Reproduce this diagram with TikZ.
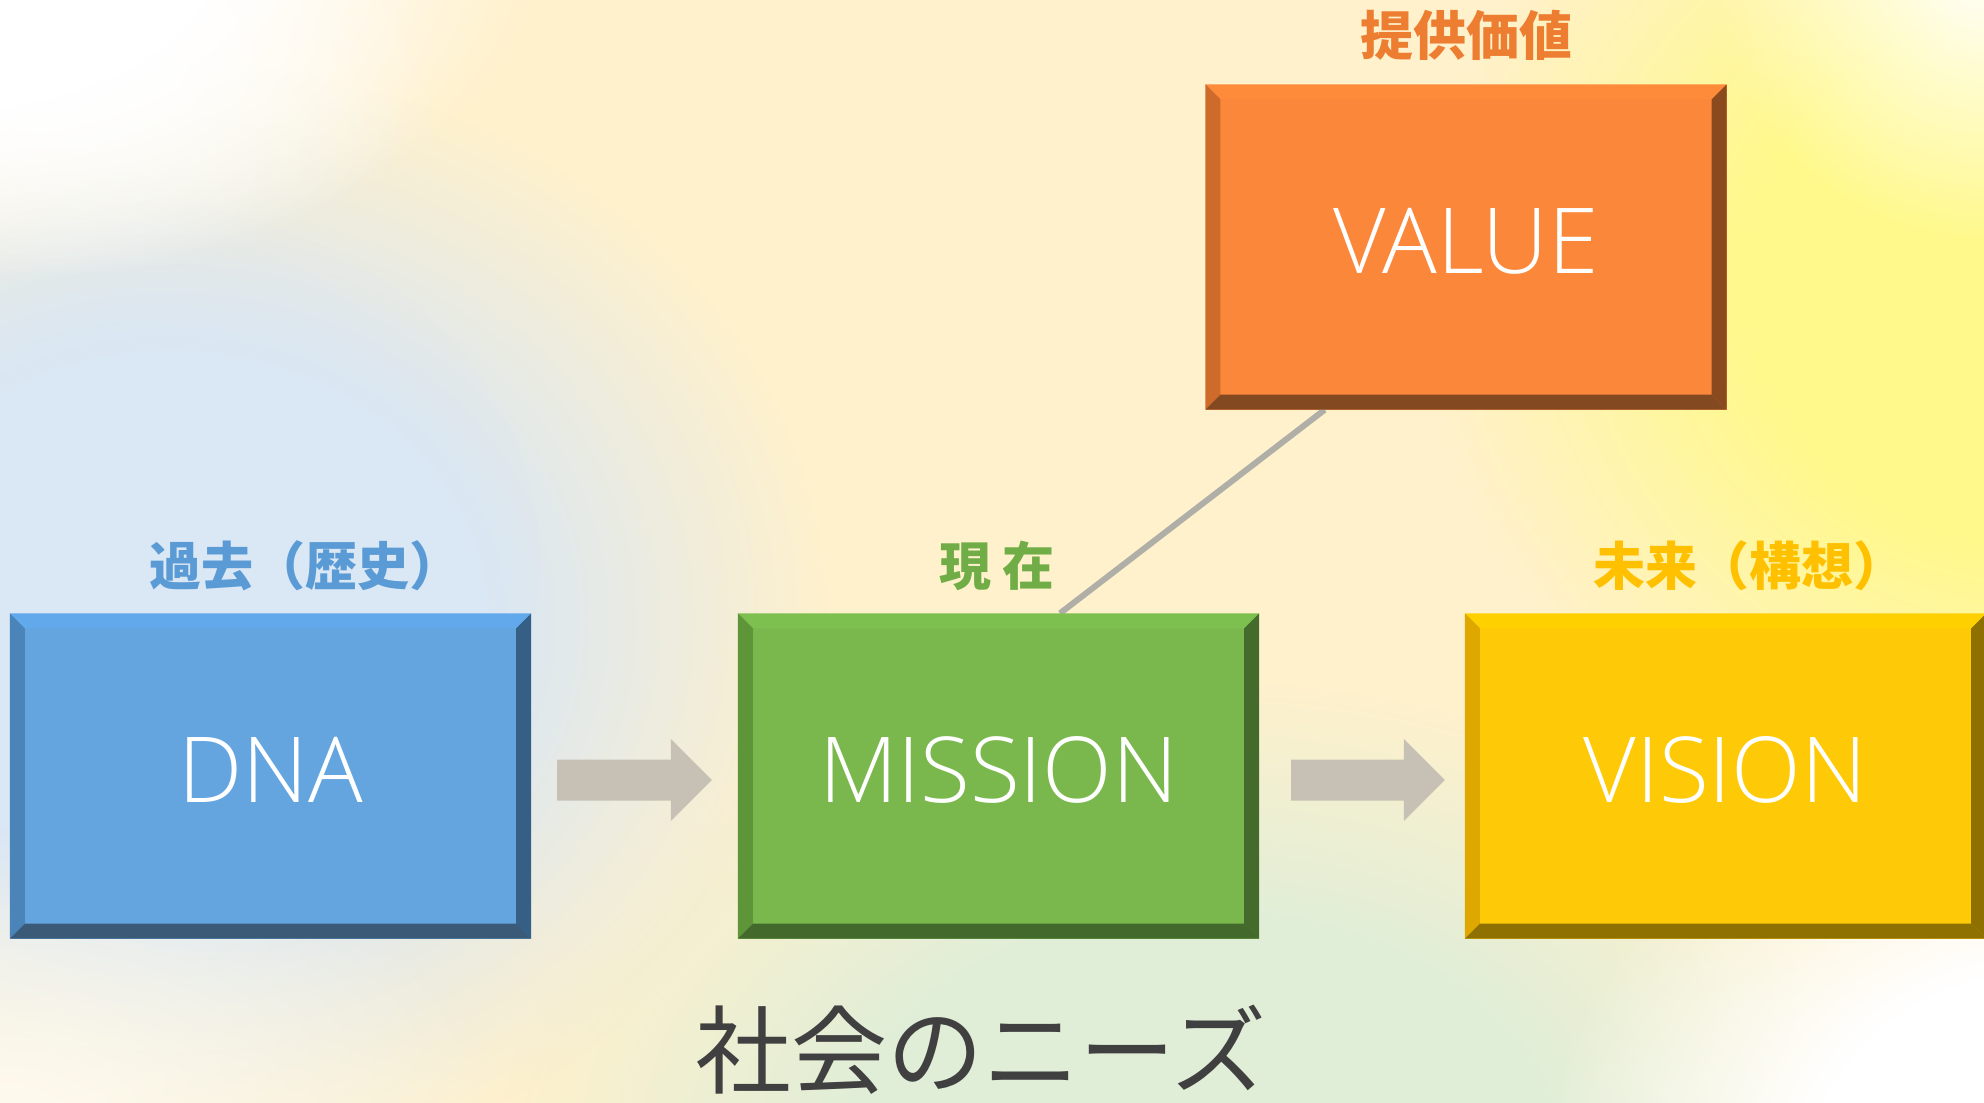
\documentclass[tikz,border=0pt]{standalone}
\usepackage{fontspec}
\usetikzlibrary{calc,fadings}
\newfontfamily\jpfont{Noto Sans CJK JP}
\newfontfamily\boxfont{Open Sans}[UprightFont=* Light]
\definecolor{bgcream}{HTML}{FFF1CC}
\definecolor{bgblue}{HTML}{DAE7F4}
\definecolor{bgyellow}{HTML}{FFF98C}
\definecolor{bggreen}{HTML}{E0EED8}
\definecolor{arrowcol}{HTML}{C6C1B4}
\definecolor{linecol}{HTML}{B0AFA7}
\definecolor{dnaface}{HTML}{64A5E0}\definecolor{dnatop}{HTML}{62A9EC}\definecolor{dnaleft}{HTML}{4A84B8}\definecolor{dnaright}{HTML}{365F86}\definecolor{dnabot}{HTML}{3A5A78}
\definecolor{misface}{HTML}{7AB84E}\definecolor{mistop}{HTML}{7DC04F}\definecolor{misleft}{HTML}{5E9539}\definecolor{misright}{HTML}{456B2C}\definecolor{misbot}{HTML}{44692D}
\definecolor{visface}{HTML}{FECA08}\definecolor{vistop}{HTML}{FFD000}\definecolor{visleft}{HTML}{DFA800}\definecolor{visright}{HTML}{8E7000}\definecolor{visbot}{HTML}{8F7102}
\definecolor{valface}{HTML}{FA873A}\definecolor{valtop}{HTML}{FE8B3A}\definecolor{valleft}{HTML}{CE6A2A}\definecolor{valright}{HTML}{8A4A1E}\definecolor{valbot}{HTML}{834A22}
\definecolor{lblblue}{HTML}{5B9BD5}
\definecolor{lblgreen}{HTML}{70AD47}
\definecolor{lblyellow}{HTML}{FFC000}
\definecolor{lblorange}{HTML}{ED7D31}
\definecolor{needcol}{HTML}{404040}
\pgfdeclareradialshading{plateaushade}{\pgfpointorigin}{color(0bp)=(pgftransparent!0); color(12bp)=(pgftransparent!0); color(25bp)=(pgftransparent!100); color(50bp)=(pgftransparent!100)}
\pgfdeclarefading{plateau}{\pgfuseshading{plateaushade}}
\pgfdeclareradialshading{softshade}{\pgfpointorigin}{color(0bp)=(pgftransparent!0); color(25bp)=(pgftransparent!100); color(50bp)=(pgftransparent!100)}
\pgfdeclarefading{softblob}{\pgfuseshading{softshade}}
\newcommand\bevelbox[5]{%
  \fill[#2] (#1.north west) -- (#1.north east) -- ([shift={(-15pt,-15pt)}]#1.north east) -- ([shift={(15pt,-15pt)}]#1.north west) -- cycle;
  \fill[#3] (#1.north west) -- ([shift={(15pt,-15pt)}]#1.north west) -- ([shift={(15pt,15pt)}]#1.south west) -- (#1.south west) -- cycle;
  \fill[#4] (#1.north east) -- ([shift={(-15pt,-15pt)}]#1.north east) -- ([shift={(-15pt,15pt)}]#1.south east) -- (#1.south east) -- cycle;
  \fill[#5] (#1.south west) -- ([shift={(15pt,15pt)}]#1.south west) -- ([shift={(-15pt,15pt)}]#1.south east) -- (#1.south east) -- cycle;
}
% #1 from node, #2 to node, #3 gap after from, #4 gap before to
\newcommand\blockarrow[4]{%
  \fill[arrowcol] let \p1=([shift={(#3,-4pt)}]#1.east), \p2=([shift={(-#4,-4pt)}]#2.west) in
    (\x1,\y1+20.5pt) -- (\x2-41pt,\y1+20.5pt) -- (\x2-41pt,\y1+41pt) -- (\x2,\y1)
    -- (\x2-41pt,\y1-41pt) -- (\x2-41pt,\y1-20.5pt) -- (\x1,\y1-20.5pt) -- cycle;
}
\begin{document}
\begin{tikzpicture}[x=1pt,y=-1pt,
  box/.style={rectangle, inner sep=0pt, minimum width=521pt, minimum height=325pt},
  boxtext/.style={text=white, font=\boxfont\fontsize{91}{91}\selectfont},
  lbl/.style={font=\jpfont\bfseries\fontsize{52}{52}\selectfont, inner sep=0pt},
  connector/.style={draw=linecol, line width=6pt}]
\useasboundingbox (0,0) rectangle (1984,1103);
% background
\fill[bgcream] (0,0) rectangle (1984,1103);
\begin{scope}
\clip (0,0) rectangle (1984,1103);
\fill[bgblue, path fading=plateau] (170,620) ellipse (660 and 560);
\fill[bgblue, path fading=softblob] (120,560) ellipse (420 and 360);
\fill[white, path fading=plateau] (-80,-50) ellipse (620 and 340);
\fill[white, path fading=softblob] (60,60) ellipse (380 and 220);
\fill[bgyellow, path fading=plateau] (2040,280) ellipse (620 and 560);
\fill[white, path fading=softblob] (1990,-40) circle (280);
\fill[bggreen, path fading=plateau] (1200,1150) ellipse (700 and 470);
\fill[white, path fading=plateau] (2060,1170) ellipse (520 and 420);
\fill[white!70!bgcream, path fading=softblob] (0,1130) ellipse (520 and 300);
\end{scope}
% boxes
\node[box, fill=dnaface] (dna) at (270.5,776) {};
\node[box, fill=misface] (mission) at (998.5,776) {};
\node[box, fill=visface] (vision) at (1725.5,776) {};
\node[box, fill=valface] (value) at (1466,247) {};
% connector
\draw[connector] ($(value.south west)!0.229!(value.south east)$) coordinate (vc)
  -- ($(mission.north west)!0.618!(mission.north east)$) coordinate (mc);
\bevelbox{dna}{dnatop}{dnaleft}{dnaright}{dnabot}
\bevelbox{mission}{mistop}{misleft}{misright}{misbot}
\bevelbox{vision}{vistop}{visleft}{visright}{visbot}
\bevelbox{value}{valtop}{valleft}{valright}{valbot}
% box texts
\node[boxtext] (dnat) at ([yshift=6pt]dna.center) {DNA};
\node[boxtext] (mist) at ([yshift=6pt]mission.center) {MISSION};
\node[boxtext] (vist) at ([yshift=6pt]vision.center) {VISION};
\node[boxtext] (valt) at ([yshift=6pt]value.center) {VALUE};
% arrows
\blockarrow{dna}{mission}{26pt}{26pt}
\blockarrow{mission}{vision}{32pt}{20pt}
% labels
\node[lbl, text=lblblue] (l1) at (305,566) {過去（歴史）};
\node[lbl, text=lblgreen] (l2) at (997,566) {現 在};
\node[lbl, text=lblyellow] (l3) at (1749,566) {未来（構想）};
\node[lbl, text=lblorange, font=\jpfont\bfseries\fontsize{53}{53}\selectfont] (l4) at (1466,35) {提供価値};
\node[text=needcol, font=\jpfont\fontsize{96}{96}\selectfont, inner sep=0pt] (needs) at (981,1050) {社会のニーズ};
\end{tikzpicture}
\end{document}
